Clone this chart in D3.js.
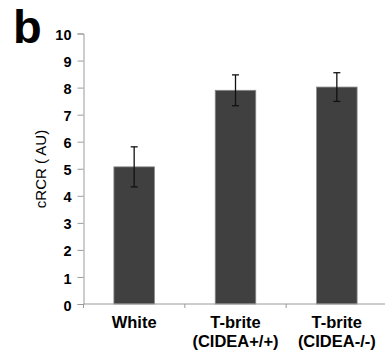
<!DOCTYPE html>
<html><head><meta charset="utf-8">
<script src="https://cdn.jsdelivr.net/npm/d3@7"></script>
<style>body{margin:0;background:#fff}svg{display:block}</style>
</head><body>
<script>
const categories = ["White", "T-brite\n(CIDEA+/+)", "T-brite\n(CIDEA-/-)"];
const values = [5.07, 7.90, 8.02];
const errors = [0.74, 0.57, 0.53];
const yTicks = [0,1,2,3,4,5,6,7,8,9,10];
const yLabel = "cRCR ( AU)";
const panelLabel = "b";

const W = 385, H = 360;
const svg = d3.select("body").append("svg").attr("width", W).attr("height", H);
const font = "Liberation Sans, Arial, sans-serif";

const x = d3.scaleBand().domain(categories).range([83.5, 387.5]).paddingInner(0.6).paddingOuter(0.3);
const y = d3.scaleLinear().domain([0, 10]).range([304, 33.5]);

// bars
svg.selectAll("rect.bar").data(values).enter().append("rect")
  .attr("x", (d,i) => x(categories[i]))
  .attr("y", d => y(d))
  .attr("width", x.bandwidth())
  .attr("height", d => y(0) - y(d))
  .attr("fill", "#404040").attr("stroke", "#8a8a8a").attr("stroke-width", 0.8);

// error bars
const eg = svg.append("g").attr("stroke", "#111").attr("stroke-width", 1.3);
values.forEach((v,i) => {
  const cx = x(categories[i]) + x.bandwidth()/2;
  eg.append("line").attr("x1", cx).attr("x2", cx).attr("y1", y(v+errors[i])).attr("y2", y(v-errors[i]));
  eg.append("line").attr("x1", cx-3.5).attr("x2", cx+3.5).attr("y1", y(v+errors[i])).attr("y2", y(v+errors[i]));
  eg.append("line").attr("x1", cx-3.5).attr("x2", cx+3.5).attr("y1", y(v-errors[i])).attr("y2", y(v-errors[i]));
});

// y axis
const yAxis = d3.axisLeft(y).tickValues(yTicks).tickSize(6).tickPadding(6).tickFormat(d3.format("d"));
const gy = svg.append("g").attr("transform", "translate(83.5,0)").call(yAxis);
gy.select(".domain").attr("stroke", "#9a9a9a");
gy.selectAll(".tick line").attr("stroke", "#9a9a9a");
gy.selectAll(".tick text").attr("font-family", font).attr("font-size", 14.5).attr("font-weight", "bold")
  .attr("fill", "#000").attr("dy", "0.42em");

// x axis line and ticks at band boundaries
const xb = svg.append("g").attr("stroke", "#9a9a9a");
xb.append("line").attr("x1", 83.5).attr("x2", W).attr("y1", y(0)).attr("y2", y(0));
categories.forEach(c => {
  const b = x(c) - x.step()*x.paddingOuter();
  xb.append("line").attr("x1", b).attr("x2", b).attr("y1", y(0)).attr("y2", y(0)+4);
});

// x labels
categories.forEach((c,i) => {
  const cx = x(c) + x.bandwidth()/2;
  const t = svg.append("text").attr("text-anchor", "middle").attr("font-family", font)
    .attr("font-size", 16.5).attr("font-weight", "bold").attr("fill", "#000");
  c.split("\n").forEach((line,j) => {
    t.append("tspan").attr("x", cx).attr("y", 328 + j*19).text(line);
  });
});

// y label
svg.append("text").attr("transform", "translate(46,169) rotate(-90)")
  .attr("text-anchor", "middle").attr("font-family", font).attr("font-size", 15)
  .attr("fill", "#000").text(yLabel);

// panel label
svg.append("text").attr("x", 13).attr("y", 43).attr("font-family", font)
  .attr("font-size", 47).attr("font-weight", "bold").attr("fill", "#000").text(panelLabel);
</script>
</body></html>
